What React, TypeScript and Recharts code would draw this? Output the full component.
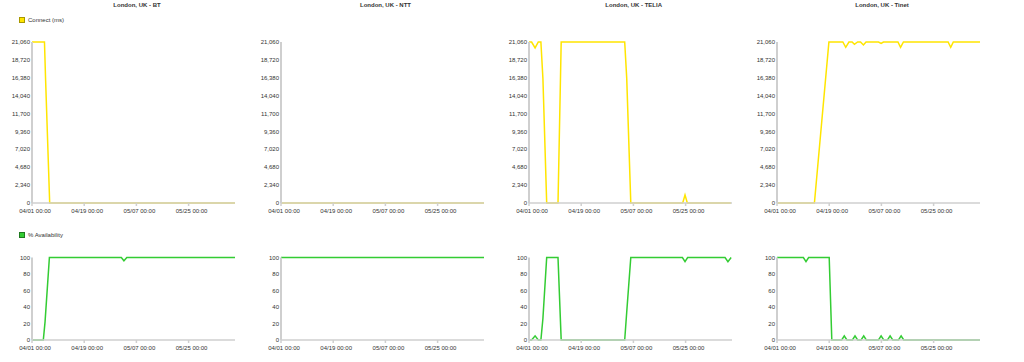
import { LineChart, Line, XAxis, YAxis } from 'recharts';

// panel titles, one per column
const titles = ['London, UK - BT', 'London, UK - NTT', 'London, UK - TELIA', 'London, UK - Tinet'];

// x axis: days since 04/01 00:00
const xTickDays = [0, 18, 36, 54];
const xTickLabels = ['04/01 00:00', '04/19 00:00', '05/07 00:00', '05/25 00:00'];

const connectTicks = [0, 2340, 4680, 7020, 9360, 11700, 14040, 16380, 18720, 21060];
const availTicks = [0, 20, 40, 60, 80, 100];

// [day, value] pairs
const btConnect: [number, number][] = [
  [0, 21060], [4.3, 21060], [4.7, 16000], [6.1, 0], [70, 0],
];
const nttConnect: [number, number][] = [[0, 0], [70, 0]];
const teliaConnect: [number, number][] = [
  [0, 21060], [0.9, 21060], [2.1, 20280], [3.2, 21060], [4.1, 21060], [4.8, 16280], [6.1, 0],
  [10, 0], [11.1, 21060], [33, 21060], [33.7, 16300], [35.1, 0], [53, 0], [53.8, 1050],
  [54.6, 0], [69.6, 0],
];
const tinetConnect: [number, number][] = [
  [0, 0], [12.9, 0], [17.9, 21060], [22.7, 21060], [23.7, 20360], [24.8, 21060], [25.9, 21060],
  [26.7, 20760], [27.8, 21060], [28.8, 21060], [29.8, 20670], [30.7, 21060], [35, 21060],
  [35.9, 20880], [36.7, 21060], [41.7, 21060], [42.6, 20360], [43.6, 21060], [59, 21060],
  [59.9, 20360], [60.8, 21060], [70, 21060],
];

const btAvail: [number, number][] = [
  [0, 0], [3.9, 0], [4.5, 22], [6, 100], [30.8, 100], [31.7, 96], [32.7, 100], [70, 100],
];
const nttAvail: [number, number][] = [[0, 100], [70, 100]];
const teliaAvail: [number, number][] = [
  [0, 0], [0.9, 0], [2.1, 5], [3.2, 0], [4.1, 0], [4.8, 26], [6.1, 100], [10, 100], [11.1, 0],
  [33, 0], [33.7, 34], [35.1, 100], [52.9, 100], [53.8, 95], [54.7, 100], [67.6, 100],
  [68.6, 95], [69.7, 100],
];
const tinetAvail: [number, number][] = [
  [0, 100], [9.1, 100], [10, 95], [10.9, 100], [18, 100], [18.9, 0], [22.3, 0], [23.2, 5],
  [24.1, 0], [26, 0], [26.9, 5], [27.8, 0], [29, 0], [29.9, 5], [30.8, 0], [35, 0], [35.9, 5],
  [36.8, 0], [38.1, 0], [39, 5], [39.9, 0], [41.9, 0], [42.8, 5], [43.7, 0], [70, 0],
];

const connectSeries = [btConnect, nttConnect, teliaConnect, tinetConnect];
const availSeries = [btAvail, nttAvail, teliaAvail, tinetAvail];

const YELLOW = '#ffe500';
const GREEN = '#33cc33';
const AXIS = '#cfcfcf';
const FONT = '"Liberation Sans", Arial, Helvetica, sans-serif';
const axisX = [32, 280.5, 528.7, 777];

function XTick({ x, y, payload }: any) {
  const i = xTickDays.indexOf(payload.value);
  return (
    <text x={x + 3} y={y} dy="0.71em" textAnchor="middle" fontSize={6} fill="#333" fontFamily={FONT}>
      {xTickLabels[i]}
    </text>
  );
}

function Panel({ data, color, ticks, max, left, top, plotTop, plotHeight }: any) {
  const rows = data.map(([d, v]: [number, number]) => ({ d, v }));
  return (
    <div style={{ position: 'absolute', left: left - 32, top }}>
      <LineChart
        width={243}
        height={plotTop + plotHeight + 20}
        data={rows}
        margin={{ top: plotTop, right: 8, bottom: 0, left: 0 }}
      >
        <XAxis
          dataKey="d"
          type="number"
          domain={[0, 70]}
          ticks={xTickDays}
          interval={0}
          tick={<XTick />}
          tickSize={3}
          tickMargin={3}
          height={20}
          stroke={AXIS}
          strokeWidth={1.5}
          allowDataOverflow
        />
        <YAxis
          type="number"
          domain={[0, max]}
          ticks={ticks}
          interval={0}
          width={32}
          tickLine={false}
          tickSize={0}
          tickMargin={2}
          tickFormatter={(v: number) => v.toLocaleString('en-US')}
          tick={{ fontSize: 6, fill: '#333', fontFamily: FONT }}
          axisLine={{ stroke: AXIS, strokeWidth: 2 }}
        />
        <Line type="linear" dataKey="v" stroke={color} strokeWidth={1.5} dot={false} isAnimationActive={false} />
      </LineChart>
    </div>
  );
}

function LegendItem({ top, color, border, label }: any) {
  return (
    <div style={{ position: 'absolute', left: 19, top, display: 'flex', alignItems: 'center', fontFamily: FONT, fontSize: 6, color: '#333' }}>
      <div style={{ width: 4, height: 4, background: color, border: `1px solid ${border}`, marginRight: 3 }} />
      <span>{label}</span>
    </div>
  );
}

export default function App() {
  return (
    <div style={{ position: 'absolute', left: 0, top: 0, width: 1024, height: 362, background: '#fff', overflow: 'hidden' }}>
      {titles.map((t, i) => (
        <div
          key={t}
          style={{ position: 'absolute', left: axisX[i] + 5, top: 1, width: 200, textAlign: 'center', fontFamily: FONT, fontSize: 6, fontWeight: 'bold', color: '#333', lineHeight: '8px' }}
        >
          {t}
        </div>
      ))}
      <LegendItem top={17} color={YELLOW} border="#a89800" label="Connect (ms)" />
      <LegendItem top={232} color={GREEN} border="#1f7a1f" label="% Availability" />
      {connectSeries.map((s, i) => (
        <Panel key={'c' + i} data={s} color={YELLOW} ticks={connectTicks} max={21060} left={axisX[i]} top={30} plotTop={12} plotHeight={161} />
      ))}
      {availSeries.map((s, i) => (
        <Panel key={'a' + i} data={s} color={GREEN} ticks={availTicks} max={100} left={axisX[i]} top={245} plotTop={12.5} plotHeight={82.5} />
      ))}
    </div>
  );
}
